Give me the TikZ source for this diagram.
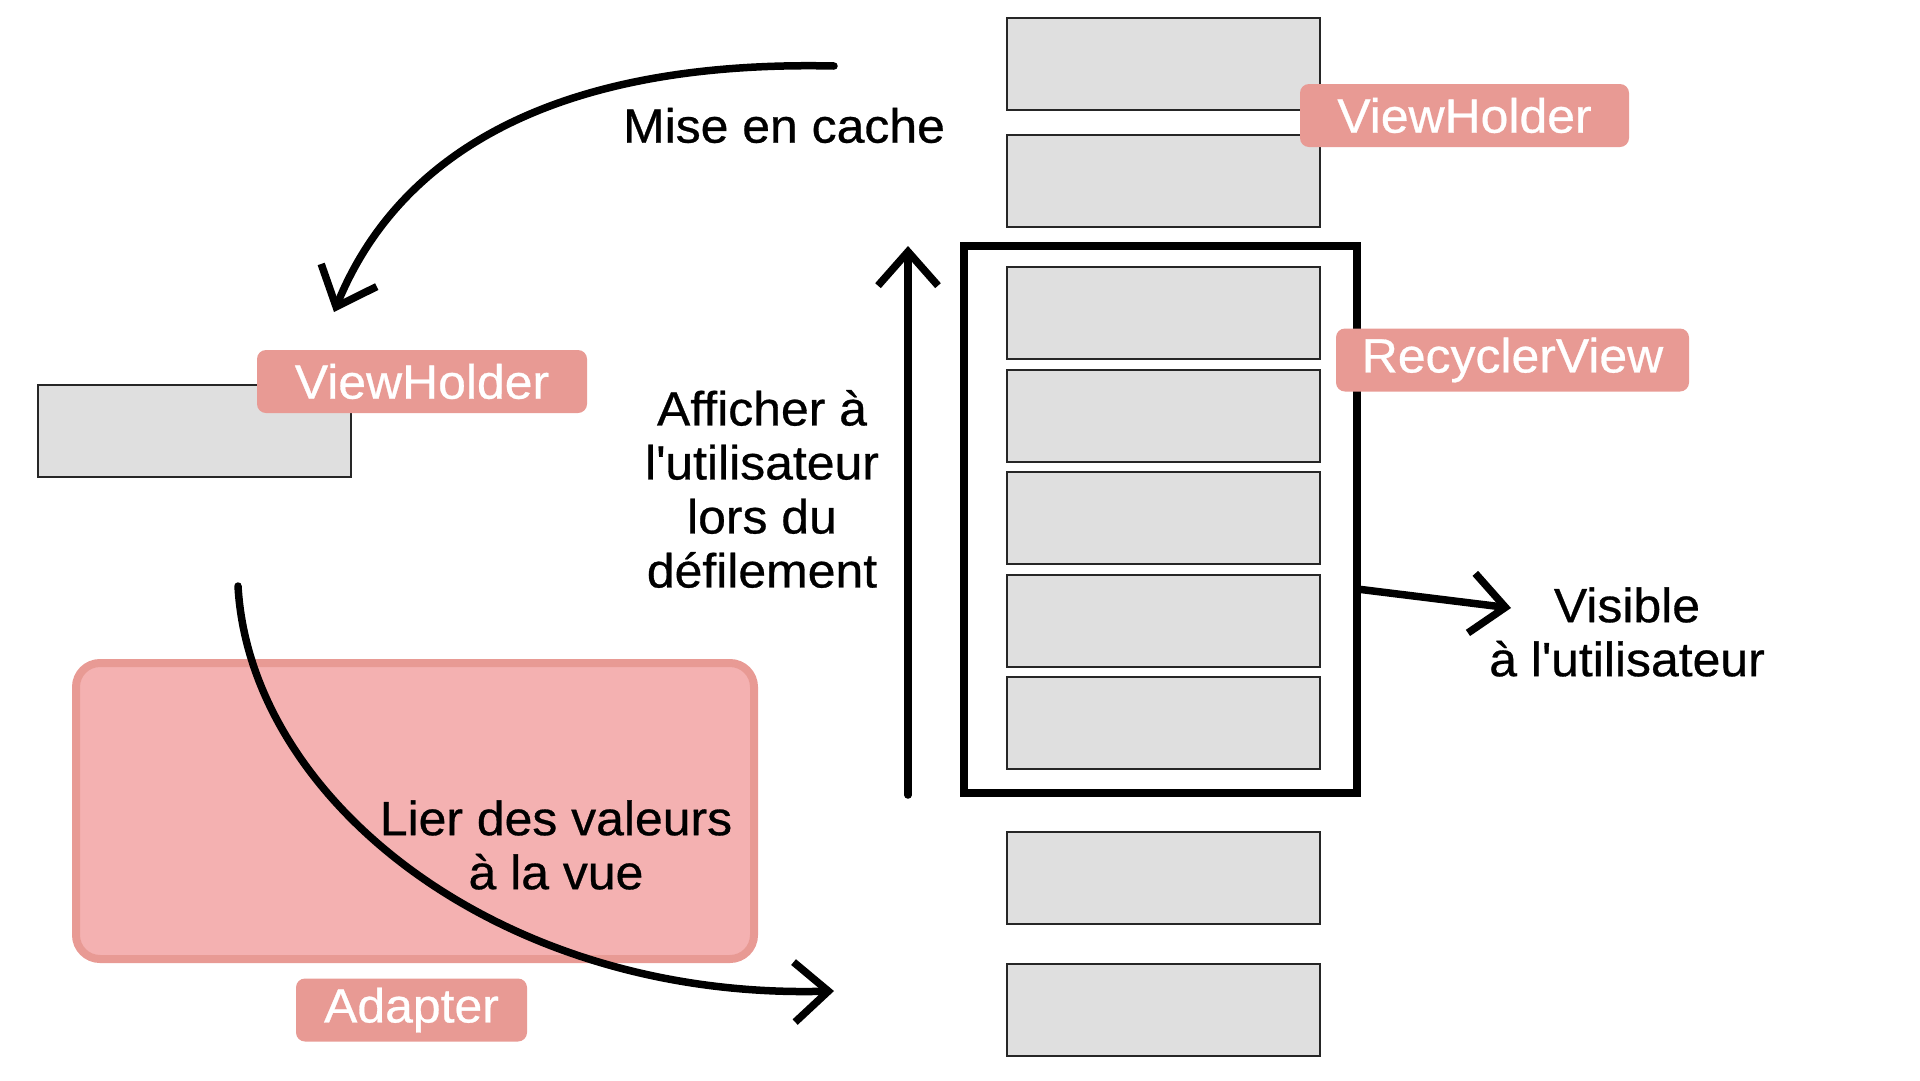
\documentclass[tikz,border=0pt]{standalone}
\usepackage{fontspec}
\setmainfont{Liberation Sans}[FakeStretch=1.04,FakeBold=0.6]
\usepackage{tikz}
\usetikzlibrary{arrows.meta, positioning}
\definecolor{salmon}{HTML}{E89A94}
\definecolor{adapterpink}{HTML}{F4B1B1}
\definecolor{slotgray}{HTML}{DFDFDF}
\newcommand{\bigtxt}{\fontsize{48}{54}\selectfont}
\tikzset{
  slot/.style={rectangle,draw=black!85,line width=2pt,fill=slotgray,minimum width=313pt,minimum height=92pt,inner sep=0pt},
  badge/.style={rectangle,rounded corners=9pt,fill=salmon,text=white,font=\bigtxt,minimum height=63pt,inner sep=0pt},
  viewport/.style={rectangle,draw=black,line width=8pt,inner sep=0pt},
  adapterbox/.style={rectangle,rounded corners=24pt,draw=salmon,line width=8pt,fill=adapterpink,inner sep=0pt},
  txt/.style={align=center,font=\bigtxt,inner sep=0pt},
  flow/.style={line width=7.5pt,line cap=round,-{Straight Barb[length=34pt,width=60pt]}},
}

\begin{document}
\begin{tikzpicture}[x=1pt,y=-1pt]
	    \useasboundingbox (0,0) rectangle (1920,1080);
	    \node[adapterbox,minimum width=678pt,minimum height=296pt] (A) at (415,811) {};
	    \node[badge,minimum width=231pt] (Al) at (411.5,1010) {Adapter};
	    \node[slot] (H) at (194.5,430.5) {};
	    \node[badge,minimum width=330pt] (Hl) at (422,381.5) {ViewHolder};
	    \node[slot] (S1) at (1163.5,64) {};
	    \node[slot,below=23pt of S1] (S2) {};
	    \node[viewport,minimum width=393pt,minimum height=547pt] (R) at (1160.5,519.5) {};
	    \node[slot] (R1) at (1163.5,313) {};
	    \node[slot,below=8.5pt of R1] (R2) {};
	    \node[slot,below=8.5pt of R2] (R3) {};
	    \node[slot,below=8.5pt of R3] (R4) {};
	    \node[slot,below=8.5pt of R4] (R5) {};
	    \node[slot] (S3) at (1163.5,878) {};
	    \node[slot,below=38pt of S3] (S4) {};
	    \node[badge,minimum width=329pt] (Sl) at (1464.5,115.5) {ViewHolder};
	    \node[badge,minimum width=353pt] (Rl) at (1512.5,360) {RecyclerView};
	    \coordinate (c0) at (834,66);
	    \coordinate (c1) at (334,312);
	    \coordinate (b0) at (238,586);
	    \coordinate (b1) at (834,991);
	    \coordinate (u0) at (908,795);
	    \coordinate (u1) at (908,246);
	    \coordinate (v0) at (1357,589);
	    \coordinate (v1) at (1511,608);
	    \draw[flow] (c0) .. controls (560,60) and (400,150) .. (c1);
	    \draw[flow] (b0) .. controls (250,800) and (500,1000) .. (b1);
	    \draw[flow] (u0) -- (u1);
	    \draw[flow] (v0) -- (v1);
	    \node[txt] (cache) at (784,125.5) {Mise en cache};
	    \node[txt] (scroll) at (762,489) {Afficher à\\l\textquotesingle utilisateur\\lors du\\défilement};
	    \node[txt] (bind) at (556,845) {Lier des valeurs\\à la vue};
	    \node[txt] (visible) at (1627,632) {Visible\\à l\textquotesingle utilisateur};
	\end{tikzpicture}
\end{document}
